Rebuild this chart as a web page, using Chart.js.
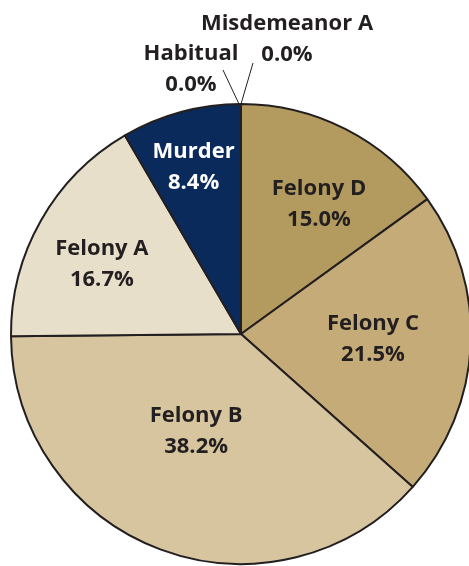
<!DOCTYPE html>
<html>
<head>
<meta charset="utf-8">
<script src="https://cdn.jsdelivr.net/npm/chart.js@4"></script>
<style>
  html, body { margin: 0; padding: 0; background: #fff; }
  #wrap { width: 469px; height: 566px; overflow: hidden; position: relative; }
  #pie { position: absolute; left: 0; top: 0; }
</style>
</head>
<body>
<div id="wrap"><canvas id="pie" width="482" height="566"></canvas></div>
<script>
// categories, clockwise from 12 o'clock
const categories = ['Felony D', 'Felony C', 'Felony B', 'Felony A', 'Murder', 'Habitual', 'Misdemeanor A'];
const shares = [15.0, 21.5, 38.2, 16.7, 8.4, 0.0, 0.0];
const sliceColors = ['#b39b5f', '#c5ab78', '#d6c59f', '#e7dfc9', '#0b2a5c', '#888888', '#888888'];
const textColors = ['#231f20', '#231f20', '#231f20', '#231f20', '#ffffff', '#231f20', '#231f20'];

// where each label sits: fraction of radius, and a small turn (degrees) off the slice middle
const labelFrac = [0.667, 0.574, 0.459, 0.68, 0.764];
const labelTurn = [3.5, -1.4, 4.6, -2.4, -0.5];

const FONT = 'bold 22px "Open Sans", "DejaVu Sans", sans-serif';
const HALF_LINE = 15.5;
const TEXT_DROP = 2;

const labelPlugin = {
  id: 'sliceLabels',
  afterDatasetsDraw(chart) {
    const ctx = chart.ctx;
    const meta = chart.getDatasetMeta(0);
    ctx.save();
    ctx.font = FONT;
    ctx.textAlign = 'center';
    ctx.textBaseline = 'middle';

    meta.data.forEach((arc, i) => {
      const value = shares[i];
      const txt = value.toFixed(1) + '%';
      if (value > 0) {
        const mid = (arc.startAngle + arc.endAngle) / 2 + labelTurn[i] * Math.PI / 180;
        const r = arc.outerRadius * labelFrac[i];
        const x = arc.x + Math.cos(mid) * r;
        const y = arc.y + Math.sin(mid) * r + TEXT_DROP;
        ctx.fillStyle = textColors[i];
        ctx.fillText(categories[i], x, y - HALF_LINE);
        ctx.fillText(txt, x, y + HALF_LINE);
      }
    });

    // zero slices sit at the top of the pie, labelled outside with leader lines
    const arc0 = meta.data[0];
    const topX = arc0.x;
    const topY = arc0.y - arc0.outerRadius;
    ctx.strokeStyle = '#231f20';
    ctx.lineWidth = 1;

    // Habitual (left)
    ctx.beginPath();
    ctx.moveTo(topX - 2, topY);
    ctx.lineTo(topX - 18, topY - 34);
    ctx.stroke();
    ctx.fillStyle = textColors[5];
    ctx.fillText(categories[5], topX - 50, topY - 50);
    ctx.fillText(shares[5].toFixed(1) + '%', topX - 50, topY - 19);

    // Misdemeanor A (right)
    ctx.beginPath();
    ctx.moveTo(topX, topY);
    ctx.lineTo(topX + 12, topY - 41);
    ctx.stroke();
    ctx.fillStyle = textColors[6];
    ctx.fillText(categories[6], topX + 46, topY - 80);
    ctx.fillText(shares[6].toFixed(1) + '%', topX + 46, topY - 49);

    ctx.restore();
  }
};

new Chart(document.querySelector('#pie'), {
  type: 'pie',
  data: {
    labels: categories,
    datasets: [{
      data: shares,
      backgroundColor: sliceColors,
      borderColor: '#231f20',
      borderWidth: 2,
      borderAlign: 'center'
    }]
  },
  options: {
    responsive: false,
    animation: false,
    layout: { padding: { left: 10, top: 103, right: 10, bottom: 1 } },
    plugins: {
      legend: { display: false },
      tooltip: { enabled: false }
    }
  },
  plugins: [labelPlugin]
});
</script>
</body>
</html>
